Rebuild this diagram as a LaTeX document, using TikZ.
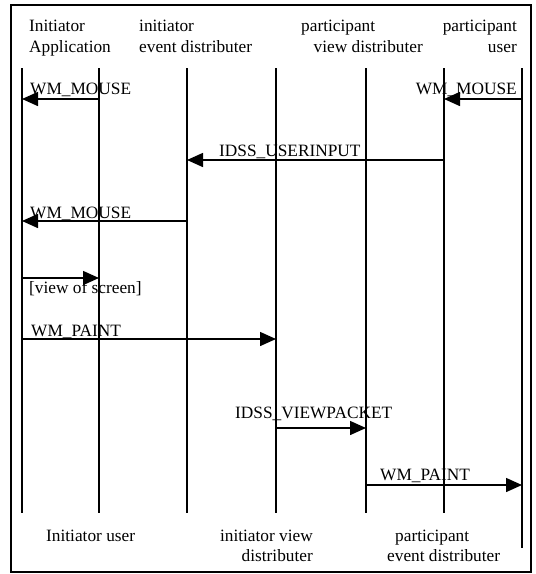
\documentclass[tikz,border=0pt]{standalone}
\usepackage{fontspec}
\setmainfont{Liberation Serif}
\usetikzlibrary{arrows.meta}
\begin{document}
\begin{tikzpicture}[x=1pt,y=-1pt,
  lbl/.style={inner sep=0pt, font=\fontsize{17.3}{21}\selectfont},
  life/.style={line width=1.5pt},
  msg/.style={line width=1.5pt, -{Triangle[length=16pt,width=14pt]}},
  frame/.style={line width=1.5pt}]
\useasboundingbox (0,0) rectangle (536,574);
\draw[frame] (11,5) rectangle (531,572);
% lifelines
\foreach \n/\x in {1/22,2/99,3/187,4/276,5/366,6/444} {
  \coordinate (t\n) at (\x,68);
  \coordinate (b\n) at (\x,513);
  \draw[life] (t\n) -- (b\n);
}
\coordinate (t7) at (522,68);
\coordinate (b7) at (522,548);
\draw[life] (t7) -- (b7);
% header labels
\node[lbl, anchor=base west] (h1a) at (29,31) {Initiator};
\node[lbl, anchor=base west] (h1b) at (29,52) {Application};
\node[lbl, anchor=base west] (h2a) at (139,31) {initiator};
\node[lbl, anchor=base west] (h2b) at (139,52) {event distributer};
\node[lbl, anchor=base west] (h3a) at (301,31) {participant};
\node[lbl, anchor=base east] (h3b) at (423,52) {view distributer};
\node[lbl, anchor=base east] (h4a) at (517,31) {participant};
\node[lbl, anchor=base east] (h4b) at (517,52) {user};
% footer labels
\node[lbl, anchor=base west] (f1) at (46,541) {Initiator user};
\node[lbl, anchor=base east] (f2a) at (313,541) {initiator view};
\node[lbl, anchor=base east] (f2b) at (313,561) {distributer};
\node[lbl, anchor=base west] (f3a) at (395,541) {participant};
\node[lbl, anchor=base west] (f3b) at (387,561) {event distributer};
% message endpoints
\coordinate (m1s) at (99,99);   \coordinate (m1e) at (22,99);
\coordinate (m2s) at (522,99);  \coordinate (m2e) at (444,99);
\coordinate (m3s) at (444,160); \coordinate (m3e) at (187,160);
\coordinate (m4s) at (187,221); \coordinate (m4e) at (22,221);
\coordinate (m5s) at (22,278);  \coordinate (m5e) at (99,278);
\coordinate (m6s) at (22,339);  \coordinate (m6e) at (276,339);
\coordinate (m7s) at (276,428); \coordinate (m7e) at (366,428);
\coordinate (m8s) at (366,485); \coordinate (m8e) at (522,485);
\draw[msg] (m1s) -- (m1e);
\draw[msg] (m2s) -- (m2e);
\draw[msg] (m3s) -- (m3e);
\draw[msg] (m4s) -- (m4e);
\draw[msg] (m5s) -- (m5e);
\draw[msg] (m6s) -- (m6e);
\draw[msg] (m7s) -- (m7e);
\draw[msg] (m8s) -- (m8e);
% message labels
\node[lbl, anchor=base west] (l1) at (30,94) {WM\_MOUSE};
\node[lbl, anchor=base east] (l2) at (517,94) {WM\_MOUSE};
\node[lbl, anchor=base west] (l3) at (219,156) {IDSS\_USERINPUT};
\node[lbl, anchor=base west] (l4) at (30,218) {WM\_MOUSE};
\node[lbl, anchor=base west] (l5) at (29,293) {[view of screen]};
\node[lbl, anchor=base west] (l6) at (31,336) {WM\_PAINT};
\node[lbl, anchor=base west] (l7) at (235,418) {IDSS\_VIEWPACKET};
\node[lbl, anchor=base west] (l8) at (380,480) {WM\_PAINT};
\end{tikzpicture}
\end{document}
